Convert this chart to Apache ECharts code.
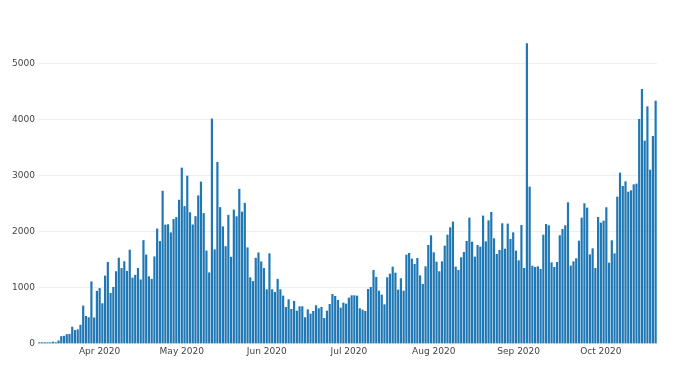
<!DOCTYPE html>
<html>
<head>
<meta charset="utf-8">
<script src="https://cdn.jsdelivr.net/npm/echarts@6/dist/echarts.min.js"></script>
<style>
html,body{margin:0;padding:0;background:#fff;}
#chart{width:680px;height:375px;}
</style>
</head>
<body>
<div id="chart"></div>
<script>
// Daily values per month (March starts on the 10th, October ends on the 21st)
var months = ['2020-03', '2020-04', '2020-05', '2020-06', '2020-07', '2020-08', '2020-09', '2020-10'];
var firstDay = [10, 1, 1, 1, 1, 1, 1, 1];

var mar = [8, 6, 7, 14, 18, 29, 12, 50, 128, 134, 163, 168, 296, 236, 250, 330, 673, 488, 465, 1105, 461, 937];
var apr = [986, 715, 1209, 1453, 899, 1006, 1287, 1529, 1344, 1465, 1293, 1672, 1173, 1222, 1346, 1140, 1842, 1585, 1197, 1151,
           1551, 2049, 1826, 2724, 2119, 2126, 1980, 2219, 2253, 2563];
var may = [3137, 2450, 2994, 2341, 2122, 2270, 2641, 2887, 2325, 1656, 1266, 4014, 1677, 3239, 2432, 2088, 1734, 2294, 1545, 2388,
           2268, 2758, 2352, 2508, 1713, 1178, 1111, 1527, 1622, 1462, 1343];
var jun = [964, 1607, 964, 917, 1150, 964, 851, 649, 786, 613, 756, 583, 661, 661, 464, 607, 530, 577, 679, 625,
           649, 452, 583, 702, 881, 845, 774, 637, 726, 708];
var jul = [815, 857, 857, 851, 625, 601, 577, 970, 1006, 1310, 1185, 940, 869, 696, 1179, 1244, 1369, 1262, 958, 1161,
           940, 1583, 1613, 1512, 1417, 1524, 1214, 1060, 1375, 1756, 1929];
var aug = [1625, 1458, 1286, 1464, 1744, 1940, 2071, 2173, 1369, 1310, 1536, 1631, 1827, 2244, 1815, 1548, 1756, 1726, 2280, 1821,
           2196, 2345, 1875, 1595, 1667, 2143, 1690, 2137, 1863, 1982, 1655];
var sep = [1482, 2113, 1345, 5357, 2798, 1387, 1363, 1375, 1327, 1940, 2131, 2107, 1446, 1363, 1452, 1929, 2042, 2107, 2518, 1387,
           1464, 1518, 1833, 2244, 2500, 2423, 1589, 1696, 1345, 2256];
var oct = [2155, 2190, 2429, 1440, 1839, 1607, 2619, 3048, 2810, 2893, 2708, 2732, 2839, 2851, 4006, 4542, 3619, 4232, 3101, 3702, 4333];

var tickDates = ['2020-04-01', '2020-05-01', '2020-06-01', '2020-07-01', '2020-08-01', '2020-09-01', '2020-10-01'];
var tickLabels = ['Apr 2020', 'May 2020', 'Jun 2020', 'Jul 2020', 'Aug 2020', 'Sep 2020', 'Oct 2020'];
var yTicks = [0, 1000, 2000, 3000, 4000, 5000];

// build categories and values
var monthData = [mar, apr, may, jun, jul, aug, sep, oct];
var categories = [];
var values = [];
for (var m = 0; m < months.length; m++) {
  for (var i = 0; i < monthData[m].length; i++) {
    var d = firstDay[m] + i;
    categories.push(months[m] + '-' + (d < 10 ? '0' + d : '' + d));
    values.push(monthData[m][i]);
  }
}

var chart = echarts.init(document.getElementById('chart'), null, {renderer: 'canvas'});
var fontFam = 'DejaVu Sans';
chart.setOption({
  animation: false,
  backgroundColor: '#ffffff',
  grid: {left: 38, right: 23, top: 27.5, bottom: 31.7, containLabel: false},
  xAxis: {
    type: 'category',
    data: categories,
    boundaryGap: true,
    axisLine: {show: false},
    axisTick: {show: false},
    splitLine: {show: false},
    axisLabel: {
      interval: function (idx, val) { return tickDates.indexOf(val) >= 0; },
      formatter: function (val) { var k = tickDates.indexOf(val); return k >= 0 ? tickLabels[k] : ''; },
      color: '#444', fontFamily: fontFam, fontSize: 9, margin: 4
    }
  },
  yAxis: {
    type: 'value',
    min: 0,
    max: 5640,
    interval: 1000,
    axisLine: {show: false},
    axisTick: {show: false},
    splitLine: {show: true, showMaxLine: false, lineStyle: {color: '#ebeef2', width: 1}},
    axisLabel: {
      showMaxLabel: false,
      formatter: function (v) { return yTicks.indexOf(v) >= 0 ? String(v) : ''; },
      color: '#444', fontFamily: fontFam, fontSize: 9, margin: 3
    }
  },
  series: [{
    type: 'bar',
    data: values,
    barCategoryGap: '20%',
    barMinHeight: 1,
    itemStyle: {color: '#1f77b4'}
  }]
});
</script>
</body>
</html>
